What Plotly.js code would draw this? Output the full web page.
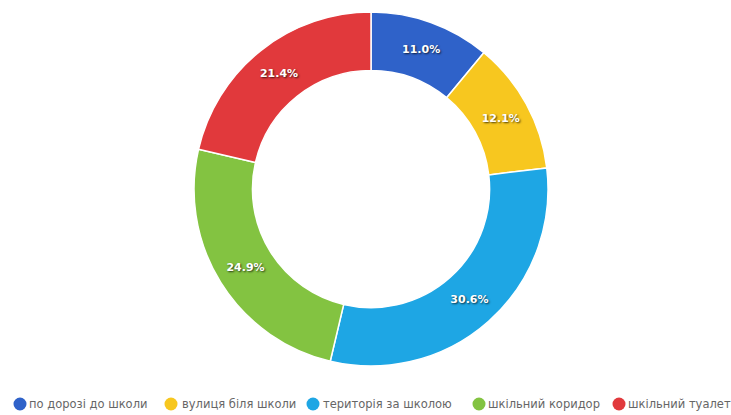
<!DOCTYPE html>
<html><head><meta charset="utf-8">
<script src="https://cdn.plot.ly/plotly-3.0.1.min.js"></script>
<style>html,body{margin:0;padding:0;background:#fff}#c{width:731px;height:415px}</style>
</head><body><div id="c"></div>
<script>
const categories = ["по дорозі до школи", "вулиця біля школи", "територія за школою", "шкільний коридор", "шкільний туалет"];
const values = [11.0, 12.1, 30.6, 24.9, 21.4];
const colors = ["#2f62c9", "#f7c71f", "#1ea6e4", "#83c341", "#e1393c"];
const legendCircleX = [20, 171, 313, 479, 619];
const legendTextX = [27, 180, 321, 486, 626];

const trace = {
  type: 'pie', labels: categories, values: values, sort: false, direction: 'clockwise', rotation: 0,
  hole: 0.67, marker: {colors: colors, line: {color: '#ffffff', width: 1.5}},
  textinfo: 'percent', texttemplate: '%{value:.1f}%', textposition: 'inside', insidetextorientation: 'horizontal',
  textfont: {color: '#ffffff', size: 11, family: 'DejaVu Sans, sans-serif', weight: 'bold', shadow: '1px 1px 2px rgba(0,0,0,0.7)'},
  domain: {x: [0.2654, 0.7497], y: [0.118, 0.971]}, showlegend: false
};

const W = 731, H = 415, LY = 404, R = 6.5;
const annotations = categories.map((c, i) => ({
  xref: 'paper', yref: 'paper', x: legendTextX[i] / W, y: 1 - LY / H, xanchor: 'left', yanchor: 'middle',
  showarrow: false, text: c,
  font: {family: 'DejaVu Sans, sans-serif', size: 11.5, color: '#666666'}
}));
const shapes = categories.map((c, i) => ({
  type: 'circle', xref: 'paper', yref: 'paper',
  x0: (legendCircleX[i] - R) / W, x1: (legendCircleX[i] + R) / W,
  y0: 1 - (LY + R) / H, y1: 1 - (LY - R) / H,
  fillcolor: colors[i], line: {width: 0}
}));

Plotly.newPlot('c', [trace], {
  width: W, height: H, margin: {l: 0, r: 0, t: 0, b: 0}, paper_bgcolor: '#fff',
  showlegend: false, annotations: annotations, shapes: shapes
}, {staticPlot: true});
</script></body></html>
